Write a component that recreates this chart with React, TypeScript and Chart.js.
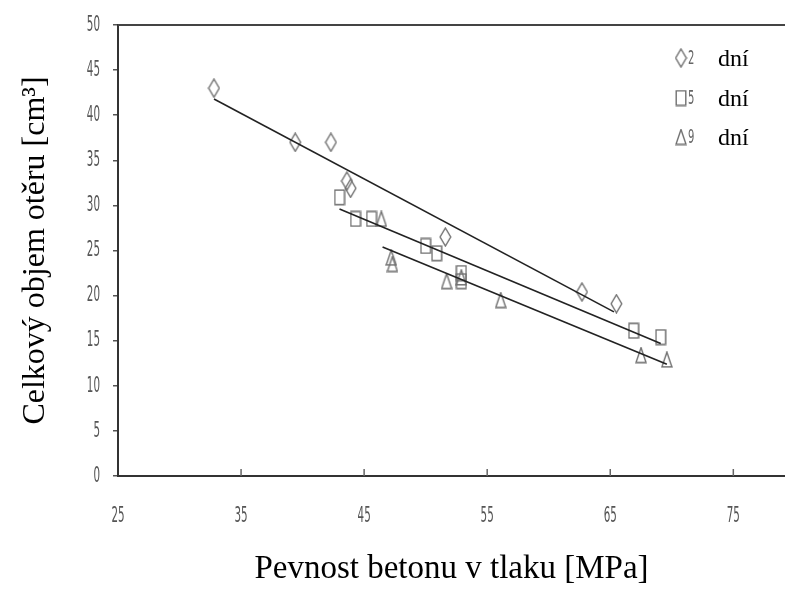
import React, { useEffect, useRef } from "react";
import { Chart, registerables } from "chart.js";

Chart.register(...registerables);

// ---- data ----
const xTicks = [25, 35, 45, 55, 65, 75];
const yTicks = [0, 5, 10, 15, 20, 25, 30, 35, 40, 45, 50];

const days2X = [32.8, 39.4, 42.3, 43.6, 43.9, 51.6, 62.7, 65.5];
const days2Y = [43.0, 37.0, 37.0, 32.7, 31.9, 26.5, 20.4, 19.1];

const days5X = [43.0, 44.3, 45.6, 50.0, 50.9, 52.9, 52.9, 66.9, 69.1];
const days5Y = [30.9, 28.5, 28.5, 25.5, 24.7, 22.5, 21.6, 16.1, 15.4];

const days9X = [46.4, 47.2, 47.3, 51.7, 52.9, 56.1, 67.5, 69.6];
const days9Y = [28.5, 24.2, 23.5, 21.6, 22.0, 19.5, 13.4, 12.9];

const fit2X = [32.8, 65.3];
const fit2Y = [41.8, 18.2];
const fit5X = [43.0, 69.1];
const fit5Y = [29.6, 14.7];
const fit9X = [46.5, 69.6];
const fit9Y = [25.4, 12.4];

const seriesNumbers = ["2", "5", "9"];
const unitLabel = "dní";
const xTitle = "Pevnost betonu v tlaku [MPa]";
const yTitle = "Celkový objem otěru [cm³]";

const X_MIN = 25;
const X_MAX = 79.2;
const Y_MIN = 0;
const Y_MAX = 50;

const toPts = (xs: number[], ys: number[]) => xs.map((x, i) => ({ x, y: ys[i] }));

const MARK = "#707070";
const TICKFONT = "'DejaVu Sans', sans-serif";
const SERIF = "'Liberation Serif', 'DejaVu Serif', serif";

function makeMarker(kind: string): HTMLCanvasElement {
  const c = document.createElement("canvas");
  const w = kind === "diamond" ? 13 : 12;
  const h = kind === "diamond" ? 20 : 17;
  c.width = w;
  c.height = h;
  const ctx = c.getContext("2d")!;
  ctx.strokeStyle = MARK;
  ctx.lineWidth = 1.4;
  ctx.beginPath();
  if (kind === "diamond") {
    ctx.moveTo(w / 2, 1);
    ctx.lineTo(w - 1.2, h / 2);
    ctx.lineTo(w / 2, h - 1);
    ctx.lineTo(1.2, h / 2);
    ctx.closePath();
  } else if (kind === "square") {
    ctx.rect(1.2, 1.2, w - 2.4, h - 2.4);
  } else {
    ctx.moveTo(w / 2, 1);
    ctx.lineTo(w - 1, h - 1.2);
    ctx.lineTo(1, h - 1.2);
    ctx.closePath();
  }
  ctx.stroke();
  return c;
}

function narrowText(ctx: CanvasRenderingContext2D, text: string, x: number, y: number, sx: number, align: CanvasTextAlign) {
  ctx.save();
  ctx.translate(x, y);
  ctx.scale(sx, 1);
  ctx.textAlign = align;
  ctx.textBaseline = "middle";
  ctx.fillText(text, 0, 0);
  ctx.restore();
}

export default function App() {
  const ref = useRef<HTMLCanvasElement | null>(null);

  useEffect(() => {
    document.body.style.margin = "0";
    document.body.style.overflow = "hidden";
    const canvas = ref.current;
    if (!canvas) return;

    const markers = [makeMarker("diamond"), makeMarker("square"), makeMarker("triangle")];

    const decor = {
      id: "decor",
      afterDraw(chart: any) {
        const { ctx, chartArea } = chart;
        const xs = chart.scales.x;
        const ys = chart.scales.y;
        ctx.save();
        // top frame line
        ctx.strokeStyle = "#444";
        ctx.lineWidth = 2;
        ctx.beginPath();
        ctx.moveTo(chartArea.left, chartArea.top);
        ctx.lineTo(chartArea.right, chartArea.top);
        ctx.stroke();
        // inward x ticks
        ctx.strokeStyle = "#666";
        ctx.lineWidth = 1.5;
        xs.ticks.forEach((t: any) => {
          if (t.value === X_MIN) return;
          const px = xs.getPixelForValue(t.value);
          ctx.beginPath();
          ctx.moveTo(px, chartArea.bottom);
          ctx.lineTo(px, chartArea.bottom - 7);
          ctx.stroke();
        });
        // condensed tick labels
        ctx.fillStyle = "#555";
        ctx.font = `22px ${TICKFONT}`;
        xs.ticks.forEach((t: any) => {
          narrowText(ctx, String(t.value), xs.getPixelForValue(t.value), chartArea.bottom + 40, 0.47, "center");
        });
        ys.ticks.forEach((t: any) => {
          narrowText(ctx, String(t.value), chartArea.left - 18, ys.getPixelForValue(t.value), 0.47, "right");
        });
        // legend
        const lx = chartArea.left + 563;
        const rows = [58, 98, 137];
        rows.forEach((ry, i) => {
          const m = markers[i];
          ctx.drawImage(m, lx - m.width / 2, ry - m.height / 2);
          ctx.fillStyle = "#666";
          ctx.font = `20px ${TICKFONT}`;
          narrowText(ctx, seriesNumbers[i], lx + 7, ry + 1, 0.5, "left");
          ctx.fillStyle = "#000";
          ctx.font = `24px ${SERIF}`;
          ctx.textAlign = "left";
          ctx.textBaseline = "alphabetic";
          ctx.fillText(unitLabel, lx + 37, ry + 8);
        });
        ctx.restore();
      },
    };

    const chart = new Chart(canvas, {
      type: "scatter",
      data: {
        datasets: [
          { data: toPts(fit2X, fit2Y), showLine: true, borderColor: "#222", borderWidth: 1.6, pointRadius: 0 },
          { data: toPts(fit5X, fit5Y), showLine: true, borderColor: "#222", borderWidth: 1.6, pointRadius: 0 },
          { data: toPts(fit9X, fit9Y), showLine: true, borderColor: "#222", borderWidth: 1.6, pointRadius: 0 },
          { data: toPts(days2X, days2Y), pointStyle: markers[0] as any, pointRadius: 8 },
          { data: toPts(days5X, days5Y), pointStyle: markers[1] as any, pointRadius: 8 },
          { data: toPts(days9X, days9Y), pointStyle: markers[2] as any, pointRadius: 8 },
        ],
      },
      options: {
        responsive: false,
        animation: false,
        layout: { autoPadding: false, padding: { top: 25, left: 0, right: 0, bottom: 0 } },
        plugins: { legend: { display: false }, tooltip: { enabled: false } },
        scales: {
          x: {
            type: "linear",
            min: X_MIN,
            max: X_MAX,
            afterBuildTicks: (s: any) => {
              s.ticks = xTicks.map((v) => ({ value: v }));
            },
            afterFit: (s: any) => {
              s.height = 117;
              s.paddingRight = 0;
              s.paddingLeft = 0;
            },
            grid: { drawOnChartArea: false, drawTicks: false },
            border: { display: true, color: "#333", width: 2 },
            ticks: { display: false },
            title: {
              display: true,
              text: xTitle,
              color: "#000",
              font: { family: SERIF, size: 33 },
              padding: { top: 0, bottom: 4 },
            },
          },
          y: {
            type: "linear",
            min: Y_MIN,
            max: Y_MAX,
            afterBuildTicks: (s: any) => {
              s.ticks = yTicks.map((v) => ({ value: v }));
            },
            afterFit: (s: any) => {
              s.width = 118;
              s.paddingTop = 0;
              s.paddingBottom = 0;
            },
            grid: { drawOnChartArea: false, drawTicks: true, tickLength: 5, color: "#555", lineWidth: 1.5 },
            border: { display: true, color: "#333", width: 2 },
            ticks: { display: false },
            title: {
              display: true,
              text: yTitle,
              color: "#000",
              font: { family: SERIF, size: 32 },
              padding: { top: 16, bottom: 0 },
            },
          },
        },
      },
      plugins: [decor],
    });

    return () => chart.destroy();
  }, []);

  return (
    <div style={{ width: 785, height: 593, background: "#fff" }}>
      <canvas ref={ref} width={785} height={593} />
    </div>
  );
}
